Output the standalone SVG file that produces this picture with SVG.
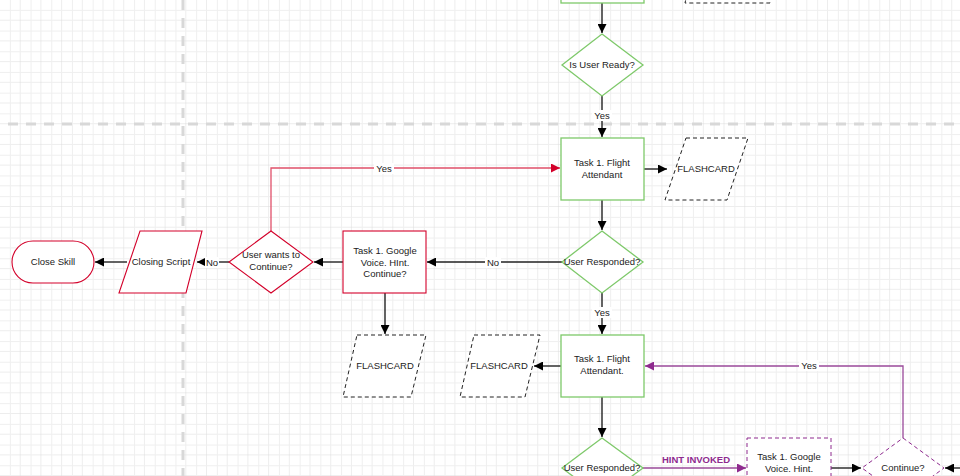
<svg xmlns="http://www.w3.org/2000/svg" width="960" height="476" viewBox="0 0 960 476">
<defs>
<pattern id="g" width="20.7" height="20.7" patternUnits="userSpaceOnUse" x="0" y="0">
<path d="M20.7 0V20.7H0" fill="none" stroke="#dcdcdc" stroke-width="1"/>
<path d="M10.35 0V20.7M0 10.35H20.7" fill="none" stroke="#efefef" stroke-width="1"/>
</pattern>
<marker id="ak" viewBox="0 0 10 10" refX="10" refY="5" markerWidth="9" markerHeight="9" markerUnits="userSpaceOnUse" orient="auto"><path d="M0 0L10 5L0 10z" fill="#000"/></marker>
<marker id="ar" viewBox="0 0 10 10" refX="10" refY="5" markerWidth="9" markerHeight="9" markerUnits="userSpaceOnUse" orient="auto"><path d="M0 0L10 5L0 10z" fill="#d3002a"/></marker>
<marker id="ap" viewBox="0 0 10 10" refX="10" refY="5" markerWidth="9" markerHeight="9" markerUnits="userSpaceOnUse" orient="auto"><path d="M0 0L10 5L0 10z" fill="#8e2a8e"/></marker>
</defs>
<style>
text{font-family:"Liberation Sans",Arial,sans-serif;font-size:9.5px;fill:#222;text-anchor:middle}
.gr{fill:#fff;stroke:#7ec96a;stroke-width:1.3}
.rd{fill:#fff;stroke:#d3002a;stroke-width:1.1}
.ds{fill:#fff;stroke:#222;stroke-width:1;stroke-dasharray:4 3}
.pu{fill:#fff;stroke:#8e2a8e;stroke-width:1;stroke-dasharray:4 3}
.ck{fill:none;stroke:#222;stroke-width:1.4}
.cr{fill:none;stroke:#e0506a;stroke-width:1.3}
.cp{fill:none;stroke:#9a4a9a;stroke-width:1.3}
.lb{fill:#fff}
</style>
<rect width="960" height="476" fill="#fff"/>
<rect width="960" height="476" fill="url(#g)"/>
<line x1="8" y1="124" x2="960" y2="124" stroke="#d8d8d8" stroke-width="3" stroke-dasharray="10 8"/>
<line x1="183" y1="0" x2="183" y2="476" stroke="#d8d8d8" stroke-width="3" stroke-dasharray="10 8"/>
<g id="connectors">
<path class="ck" d="M602 3V33" marker-end="url(#ak)"/>
<path class="ck" d="M602 96V137" marker-end="url(#ak)"/>
<rect class="lb" x="592" y="110" width="20" height="11"/><text x="602" y="119">Yes</text>
<path class="ck" d="M644 169H667" marker-end="url(#ak)"/>
<path class="ck" d="M602 200V230" marker-end="url(#ak)"/>
<path class="ck" d="M562 262H427" marker-end="url(#ak)"/>
<rect class="lb" x="485" y="257" width="16" height="11"/><text x="493" y="265.5">No</text>
<path class="ck" d="M343 262H314" marker-end="url(#ak)"/>
<path class="ck" d="M229 262H197" marker-end="url(#ak)"/>
<rect class="lb" x="205" y="257" width="14" height="11"/><text x="212" y="265.5">No</text>
<path class="ck" d="M127 262H95" marker-end="url(#ak)"/>
<path class="ck" d="M385 293V334" marker-end="url(#ak)"/>
<path class="cr" d="M271 231V168H560" marker-end="url(#ar)"/>
<rect class="lb" x="374" y="163" width="20" height="11"/><text x="384" y="171.5">Yes</text>
<path class="ck" d="M602 293V334" marker-end="url(#ak)"/>
<rect class="lb" x="592" y="307" width="20" height="11"/><text x="602" y="316">Yes</text>
<path class="ck" d="M561 366H534" marker-end="url(#ak)"/>
<path class="ck" d="M602 397V437" marker-end="url(#ak)"/>
<path class="cp" d="M643 468H746" marker-end="url(#ap)"/>
<text x="696" y="463" style="fill:#8e2a8e;font-weight:bold">HINT INVOKED</text>
<path class="ck" d="M831 468H861" marker-end="url(#ak)"/>
<path class="ck" d="M960 468H945" marker-end="url(#ak)"/>
<path class="cp" d="M903 438V366H645" marker-end="url(#ap)"/>
<rect class="lb" x="799" y="360" width="20" height="11"/><text x="809" y="368.5">Yes</text>
</g>
<g id="top-box"><rect class="gr" x="561" y="-10" width="83" height="13"/></g>
<g id="top-card"><path class="ds" d="M688 -10H773L770 3H685z"/></g>
<g id="is-user-ready"><path class="gr" d="M602 34L643 65L602 96L562 65z"/><text x="602" y="68">Is User Ready?</text></g>
<g id="flight1"><rect class="gr" x="561" y="138" width="83" height="62"/><text x="602" y="166">Task 1. Flight</text><text x="602" y="177.5">Attendant</text></g>
<g id="card1"><path class="ds" d="M686 138H748L727 200H665z"/><text x="706" y="172">FLASHCARD</text></g>
<g id="responded1"><path class="gr" d="M602 231L643 262L602 293L562 262z"/><text x="602" y="265">User Responded?</text></g>
<g id="gv1"><rect class="rd" x="343" y="231" width="83" height="62"/><text x="385" y="254">Task 1. Google</text><text x="385" y="265.5">Voice. HInt.</text><text x="385" y="277">Continue?</text></g>
<g id="wants"><path class="rd" d="M271 231L313 262L271 293L229 262z"/><text x="271" y="258">User wants to</text><text x="271" y="270">Continue?</text></g>
<g id="closing"><path class="rd" d="M140 231H202L186 293H119z"/><text x="161" y="265">Closing Script</text></g>
<g id="close-skill"><rect class="rd" x="12" y="241" width="82" height="42" rx="21"/><text x="53" y="265">Close Skill</text></g>
<g id="card2"><path class="ds" d="M357 335H426L411 397H343z"/><text x="385" y="369">FLASHCARD</text></g>
<g id="card3"><path class="ds" d="M474 335H540L525 397H460z"/><text x="499" y="369">FLASHCARD</text></g>
<g id="flight2"><rect class="gr" x="561" y="335" width="83" height="62"/><text x="602" y="362">Task 1. Flight</text><text x="602" y="374">Attendant.</text></g>
<g id="responded2"><path class="gr" d="M602 438L643 468L602 498L562 468z"/><text x="602" y="471">User Responded?</text></g>
<g id="gv2"><rect class="pu" x="747" y="438" width="84" height="50"/><text x="789" y="460">Task 1. Google</text><text x="789" y="471.5">Voice. Hint.</text></g>
<g id="continue"><path class="pu" d="M903 438L944 468L903 498L862 468z"/><text x="903" y="471">Continue?</text></g>
</svg>
